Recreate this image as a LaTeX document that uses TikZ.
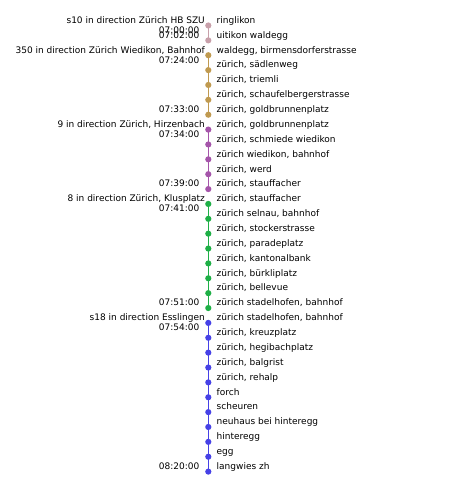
\documentclass[tikz,border=0pt]{standalone}
\usepackage{fontspec}
\setmainfont{DejaVu Sans}
\definecolor{sten}{RGB}{200,160,170}
\definecolor{bus}{RGB}{192,154,80}
\definecolor{tramnine}{RGB}{165,85,170}
\definecolor{trameight}{RGB}{30,175,70}
\definecolor{seighteen}{RGB}{70,65,230}
\tikzset{
	stopdot/.style={circle, inner sep=0pt, minimum size=6.2pt},
	stopname/.style={anchor=base west, inner sep=0pt},
	linelabel/.style={anchor=base east, inner sep=0pt},
	timelabel/.style={anchor=base east, inner sep=0pt},
}
\newcommand{\rowy}[1]{25.5+14.87*#1}
\begin{document}
\begin{tikzpicture}[x=1pt, y=-1pt, font=\fontsize{9}{10}\selectfont]
		\useasboundingbox (0,0) rectangle (470,486);
		% stops, top to bottom
		\foreach \name [count=\i from 0] in {ringlikon, uitikon waldegg, {waldegg, birmensdorferstrasse}, {zürich, sädlenweg}, {zürich, triemli}, {zürich, schaufelbergerstrasse}, {zürich, goldbrunnenplatz}, {zürich, goldbrunnenplatz}, {zürich, schmiede wiedikon}, {zürich wiedikon, bahnhof}, {zürich, werd}, {zürich, stauffacher}, {zürich, stauffacher}, {zürich selnau, bahnhof}, {zürich, stockerstrasse}, {zürich, paradeplatz}, {zürich, kantonalbank}, {zürich, bürkliplatz}, {zürich, bellevue}, {zürich stadelhofen, bahnhof}, {zürich stadelhofen, bahnhof}, {zürich, kreuzplatz}, {zürich, hegibachplatz}, {zürich, balgrist}, {zürich, rehalp}, forch, scheuren, neuhaus bei hinteregg, hinteregg, egg, langwies zh}{
			\node[stopname] (name\i) at (216.5, {\rowy{\i}-2.2}) {\name};
		}
		% one leg per line
		\foreach \col/\first/\last/\lbl/\dep/\arr in {sten/0/1/{s10 in direction Zürich HB SZU}/07:00:00/07:02:00, bus/2/6/{350 in direction Zürich Wiedikon, Bahnhof}/07:24:00/07:33:00, tramnine/7/11/{9 in direction Zürich, Hirzenbach}/07:34:00/07:39:00, trameight/12/19/{8 in direction Zürich, Klusplatz}/07:41:00/07:51:00, seighteen/20/30/{s18 in direction Esslingen}/07:54:00/08:20:00}{
			\foreach \r in {\first,...,\last}
				\node[stopdot, fill=\col] (dot\r) at (208.3, {\rowy{\r}}) {};
			\draw[\col, line width=1.5pt] (dot\first.center) -- (dot\last.center);
			\node[linelabel] (line\first) at (205, {\rowy{\first}-2.2}) {\lbl};
			\node[timelabel] (dep\first) at (199.5, {\rowy{\first}+7.8}) {\dep};
			\node[timelabel] (arr\last) at (199.5, {\rowy{\last}-2.1}) {\arr};
		}
	\end{tikzpicture}
\end{document}
